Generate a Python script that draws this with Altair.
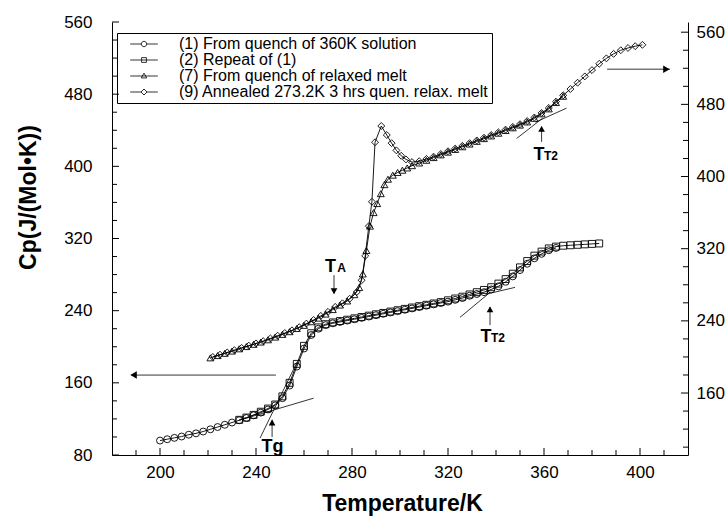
import altair as alt
import pandas as pd

FONT = "Liberation Sans"

# ---- run (1): from quench of 360K solution (left axis) ----
T1 = [200, 203, 206, 209, 212, 215, 218, 221, 224, 227, 230, 233, 236, 239, 242, 245,
      248, 251, 254, 257, 260, 263, 266, 269, 272, 275, 278, 281, 284, 287, 290, 293,
      296, 299, 302, 305, 308, 311, 314, 317, 320, 323, 326, 329, 332, 335, 338, 341,
      344, 347, 350, 353, 356, 359, 362, 365]
CP1 = [96, 97.5, 99, 100.5, 102.5, 104, 106, 108.5, 111, 113.5, 116, 118.5, 121, 124, 127, 130.5,
       135, 143, 157, 178, 198, 213, 220, 224, 226, 227.5, 229, 230.5, 232, 233.5, 235, 236.5,
       238, 239.5, 241, 242.5, 244, 245.5, 247, 248.5, 250, 252, 254, 256.5, 258.5, 260.5, 263.5, 267,
       272, 278, 285, 292, 298, 303, 307, 309.5]

# ---- run (2): repeat of (1) (left axis) ----
T2 = [233, 236, 239, 242, 245, 248, 251, 254, 257, 260, 263, 266, 269, 272, 275, 278,
      281, 284, 287, 290, 293, 296, 299, 302, 305, 308, 311, 314, 317, 320, 323, 326,
      329, 332, 335, 338, 341, 344, 347, 350, 353, 356, 359, 362, 365, 368, 371, 374,
      377, 380, 383]
CP2 = [119, 121.5, 124.5, 128, 131.5, 136, 145, 160, 181, 201, 215, 221.5, 225, 227, 228.5, 230,
       231.5, 233, 234.5, 236, 237.5, 239, 240.5, 242, 243.5, 245, 246.5, 248, 249.5, 251.5, 253.5, 255.5,
       258, 260.5, 263, 266, 270, 275, 281, 288, 295, 301, 305.5, 309, 311, 312, 312.5, 313,
       313.5, 314, 314.5]

# ---- run (7): from quench of relaxed melt (right axis) ----
T7 = [221, 224, 227, 230, 233, 236, 239, 242, 245, 248, 251, 254, 257, 260, 263, 266,
      269, 272, 275, 278, 281, 283, 284.5, 286, 287.5, 289, 290.5, 292, 293.5, 295, 297,
      299, 301, 303, 305, 308, 311, 314, 317, 320, 323, 326, 329, 332, 335, 338, 341,
      344, 347, 350, 353, 356, 359, 362, 365, 368]
CP7 = [199, 201.5, 204, 206.5, 209, 211.5, 214, 216.5, 219, 222, 225, 228, 231.5, 235, 239, 243,
       247.5, 252.5, 257.5, 262, 269, 277, 292, 318, 345, 360, 370, 381, 391, 397, 401.5,
       404.5, 407, 409.5, 412, 415, 418, 421, 424, 427, 430, 433, 436, 439, 442, 445, 448,
       451, 454, 457, 460.5, 464.5, 469.5, 475, 482, 489]

# ---- run (9): annealed 273.2K 3 hrs, quenched relaxed melt (right axis) ----
T9 = [222, 225, 228, 231, 234, 237, 240, 243, 246, 249, 252, 255, 258, 261, 264, 267,
      270, 273, 276, 279, 282, 284, 285.5, 287, 288.3, 289.6, 292.2, 294.5, 296.5, 298.5,
      300.5, 302.5, 305, 308, 311, 314, 317, 320, 323, 326, 329, 332, 335, 338, 341, 344,
      347, 350, 353, 356, 359, 362, 365, 368, 371, 374, 377, 380, 383, 386, 389, 392,
      395, 398, 401]
CP9 = [200, 202.5, 205, 207.5, 210, 212.5, 215, 217.5, 220.5, 223.5, 226.5, 229.5, 233, 237, 241, 245.5,
       250, 255.5, 259.5, 264.5, 272, 285, 312, 345, 372, 438, 456, 446, 437, 429,
       423, 419, 416, 417, 419.5, 422, 425, 428, 431, 434, 437, 440, 443, 446, 449, 452,
       455, 458, 461.5, 465.5, 470.5, 476, 483, 490, 497, 504, 511, 518, 525, 531, 536, 540,
       542.5, 544.5, 546]

SERIES = ["(1) From quench of 360K solution",
          "(2) Repeat of (1)",
          "(7) From quench of relaxed melt",
          "(9) Annealed 273.2K 3 hrs quen. relax. melt"]

X_LABELS = [200, 240, 280, 320, 360, 400]
YL_LABELS = [80, 160, 240, 320, 400, 480, 560]
YR_LABELS = [160, 240, 320, 400, 480, 560]

# annotation letters (left-axis units)
ANN_MAIN_T = [271.0, 246.9, 335.8, 357.9]
ANN_MAIN_CP = [282.8, 83.3, 205.2, 406.9]
ANN_MAIN_TXT = ["T", "Tg", "T", "T"]
ANN_SUB_T = [273.9, 337.9, 360.0]
ANN_SUB_CP = [282.8, 205.2, 406.9]
ANN_SUB_TXT = ["A", "T2", "T2"]

# arrow shafts and tangent lines (left-axis units)
SEG_T = [272.5, 246.7, 337.5, 359.0, 248.3, 386.3,
         241.7, 233.0, 325.0, 336.1, 348.6, 356.5]
SEG_CP = [279.4, 99.9, 224.0, 427.1, 168.6, 507.7,
          98.8, 118.5, 232.6, 258.4, 430.9, 449.0]
SEG_T2 = [272.5, 246.7, 337.5, 359.0, 188.0, 412.5,
          257.1, 264.0, 337.5, 347.9, 359.5, 369.4]
SEG_CP2 = [259.0, 119.0, 244.0, 444.0, 168.6, 507.7,
           183.0, 143.0, 260.2, 265.8, 453.5, 464.5]

HEAD_UP_T = [246.7, 337.5, 359.0]
HEAD_UP_CP = [116.0, 241.5, 441.5]
HEAD_DOWN_T = [272.5]
HEAD_DOWN_CP = [261.5]
HEAD_LEFT_T = [189.0]
HEAD_LEFT_CP = [168.6]
HEAD_RIGHT_T = [411.0]
HEAD_RIGHT_CP = [507.7]

# legend glyphs: a short line with the marker in its middle
LEGEND_PATHS = [
    "M-4.6 0H-0.9M0.9 0H4.6M-0.9 0A0.9 0.9 0 1 0 0.9 0A0.9 0.9 0 1 0 -0.9 0Z",
    "M-4.6 0H4.6M-0.8 -0.8H0.8V0.8H-0.8Z",
    "M-4.6 0H4.6M0 -0.95L0.9 0.65H-0.9Z",
    "M-4.6 0H-1M1 0H4.6M0 -1L1 0L0 1L-1 0Z",
]

W, H = 576, 433

x_scale = alt.Scale(domain=[180, 420], nice=False, zero=False)
yl_scale = alt.Scale(domain=[80, 560], nice=False, zero=False)
yr_scale = alt.Scale(domain=[91.3, 571.3], nice=False, zero=False)

axis_style = dict(grid=False, ticks=False, domainColor="black", domainWidth=1,
                  labelFont=FONT, labelFontSize=17, labelColor="black")
x_axis = alt.Axis(values=X_LABELS, title="Temperature/K", labelPadding=9,
                  titleFont=FONT, titleFontSize=23, titleFontWeight="bold", titleColor="black",
                  titleX=290, titleY=48, titleAlign="center", titleBaseline="middle",
                  **axis_style)
yl_axis = alt.Axis(values=YL_LABELS, title="Cp(J/(Mol•K))", orient="left", labelPadding=20,
                   titleFont=FONT, titleFontSize=23, titleFontWeight="bold", titleColor="black",
                   titleX=-84, titleY=175, titleAngle=270, titleAlign="center",
                   titleBaseline="middle", **axis_style)
yr_axis = alt.Axis(values=YR_LABELS, title=None, orient="right", labelPadding=8, **axis_style)


def X(field="T"):
    return alt.X(f"{field}:Q", scale=x_scale, axis=x_axis)


def YL(field="Cp"):
    return alt.Y(f"{field}:Q", scale=yl_scale, axis=yl_axis)


def YR(field="Cp"):
    return alt.Y(f"{field}:Q", scale=yr_scale, axis=yr_axis)


def run(t, cp, shape, ychan):
    df = pd.DataFrame({"T": t, "Cp": cp})
    base = alt.Chart(df)
    line = base.mark_line(color="black", strokeWidth=0.9).encode(x=X(), y=ychan())
    pts = base.mark_point(shape=shape, filled=False, color="black", size=48,
                          strokeWidth=0.9, opacity=1).encode(x=X(), y=ychan())
    return [line, pts]


# inward axis ticks
def ticks_df(values):
    return pd.DataFrame({"v": values})


left_major = alt.Chart(ticks_df(YL_LABELS)).mark_rule(color="black", strokeWidth=1).encode(
    y=YL("v"), x=alt.value(0), x2=alt.value(7))
left_minor = alt.Chart(ticks_df([v for v in range(100, 560, 20) if v % 80])).mark_rule(
    color="black", strokeWidth=1).encode(y=YL("v"), x=alt.value(0), x2=alt.value(5))
bottom_major = alt.Chart(ticks_df(X_LABELS)).mark_rule(color="black", strokeWidth=1).encode(
    x=X("v"), y=alt.value(H), y2=alt.value(H - 7))
bottom_minor = alt.Chart(ticks_df([v for v in range(190, 420, 10) if v % 40])).mark_rule(
    color="black", strokeWidth=1).encode(x=X("v"), y=alt.value(H), y2=alt.value(H - 5))
right_major = alt.Chart(ticks_df(YR_LABELS)).mark_rule(color="black", strokeWidth=1).encode(
    y=YR("v"), x=alt.value(W), x2=alt.value(W - 7))
right_minor = alt.Chart(ticks_df([v for v in range(100, 561, 20) if v % 80])).mark_rule(
    color="black", strokeWidth=1).encode(y=YR("v"), x=alt.value(W), x2=alt.value(W - 5))

# annotations
seg_df = pd.DataFrame({"T": SEG_T, "Cp": SEG_CP, "Tb": SEG_T2, "Cpb": SEG_CP2})
segments = alt.Chart(seg_df).mark_rule(color="black", strokeWidth=0.8).encode(
    x=X(), y=YL(), x2="Tb:Q", y2="Cpb:Q")


def heads(t, cp, shape, size):
    df = pd.DataFrame({"T": t, "Cp": cp})
    return alt.Chart(df).mark_point(shape=shape, filled=True, color="black", size=size,
                                    opacity=1).encode(x=X(), y=YL())


main_txt = alt.Chart(pd.DataFrame({"T": ANN_MAIN_T, "Cp": ANN_MAIN_CP, "txt": ANN_MAIN_TXT})).mark_text(
    font=FONT, fontSize=18, fontWeight="bold", align="center", baseline="alphabetic", color="black"
).encode(x=X(), y=YL(), text="txt:N")
sub_txt = alt.Chart(pd.DataFrame({"T": ANN_SUB_T, "Cp": ANN_SUB_CP, "txt": ANN_SUB_TXT})).mark_text(
    font=FONT, fontSize=12, fontWeight="bold", align="left", baseline="alphabetic", color="black"
).encode(x=X(), y=YL(), text="txt:N")

# legend carrier (invisible points, legend drawn from the shape scale)
legend_df = pd.DataFrame({"series": SERIES, "T": [300] * 4, "Cp": [300] * 4})
legend_layer = alt.Chart(legend_df).mark_point(opacity=0, color="black").encode(
    x=X(), y=YL(),
    shape=alt.Shape("series:N",
                    scale=alt.Scale(domain=SERIES, range=LEGEND_PATHS),
                    legend=alt.Legend(orient="none", legendX=5, legendY=11, title=None,
                                      strokeColor="black", padding=3,
                                      labelFont=FONT, labelFontSize=16, labelColor="black",
                                      labelLimit=500, labelOffset=27,
                                      symbolSize=36, symbolOffset=16,
                                      symbolStrokeColor="black", symbolFillColor="white",
                                      symbolStrokeWidth=0.8, symbolOpacity=1,
                                      rowPadding=0)))

lower = alt.layer(
    left_major, left_minor, bottom_major, bottom_minor,
    *run(T1, CP1, "circle", YL),
    *run(T2, CP2, "square", YL),
    segments,
    heads(HEAD_UP_T, HEAD_UP_CP, "triangle-up", 45),
    heads(HEAD_DOWN_T, HEAD_DOWN_CP, "triangle-down", 45),
    heads(HEAD_LEFT_T, HEAD_LEFT_CP, "triangle-left", 55),
    heads(HEAD_RIGHT_T, HEAD_RIGHT_CP, "triangle-right", 55),
    main_txt, sub_txt,
    legend_layer,
)

upper = alt.layer(
    right_major, right_minor,
    *run(T7, CP7, "triangle-up", YR),
    *run(T9, CP9, "diamond", YR),
)

chart = alt.layer(lower, upper).resolve_scale(y="independent").properties(
    width=W, height=H,
    autosize=alt.AutoSizeParams(type="none"),
    padding={"left": 112, "top": 22, "right": 37, "bottom": 68},
    background="white",
).configure_view(strokeWidth=0)

chart.save("out.html", embed_options={"renderer": "svg", "actions": False})
